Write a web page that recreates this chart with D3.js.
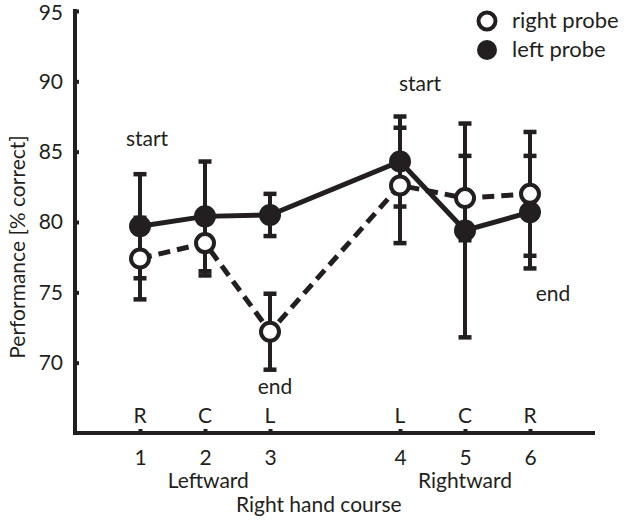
<!DOCTYPE html>
<html>
<head>
<meta charset="utf-8">
<script src="https://cdn.jsdelivr.net/npm/d3@7"></script>
<style>
  body { margin: 0; background: #fff; }
  text { font-family: Lato, "Open Sans", sans-serif; fill: #231f20; }
</style>
</head>
<body>
<svg width="630" height="529"></svg>
<script>
// chart values
let positions = [1, 2, 3, 5, 6, 7]          // plotting slots (gap between 3 and 4)
let courseNums = ["1", "2", "3", "4", "5", "6"]
let sideLabels = ["R", "C", "L", "L", "C", "R"]
let leftMean = [79.7, 80.4, 80.5, 84.3, 79.4, 80.7]
let leftErr = [3.7, 3.9, 1.5, 3.2, 7.6, 4.0]
let rightMean = [77.4, 78.5, 72.2, 82.6, 81.7, 82.0]
let rightErr = [2.9, 2.3, 2.7, 4.1, 3.0, 4.4]
let yTicks = [70, 75, 80, 85, 90, 95]
let notes = [
  {pos: 1, val: 85.4, text: "start"},
  {pos: 3, val: 67.8, text: "end"},
  {pos: 5, val: 89.3, text: "start"},
  {pos: 7, val: 74.4, text: "end"}
]
let noteShift = [7, 5, 20, 23]

let ink = "#231f20"
let svg = d3.select("svg")

let x = d3.scaleLinear().domain([0, 8]).range([75, 595])
let y = d3.scaleLinear().domain([65, 95]).range([433, 11])

// axes
let yAxis = d3.axisLeft(y).tickValues(yTicks).tickSize(-4).tickPadding(12).tickFormat(d3.format("d"))
let gy = svg.append("g").attr("transform", "translate(" + x(0) + ",0)").call(yAxis)
let xAxis = d3.axisBottom(x).tickValues(positions).tickSize(-4).tickPadding(12)
  .tickFormat((d, i) => courseNums[i])
let gx = svg.append("g").attr("transform", "translate(0," + y(65) + ")").call(xAxis)

;[gx, gy].forEach(g => {
  g.select(".domain").remove()
  g.selectAll(".tick line").attr("stroke", ink).attr("stroke-width", 4)
  g.selectAll(".tick text").attr("font-size", 21).attr("font-family", "Lato, sans-serif").attr("fill", ink)
})
gx.selectAll(".tick text").attr("dy", "0.95em")
gy.selectAll(".tick text").filter(d => d == 95).attr("dy", "0.42em")
svg.append("path")
  .attr("d", "M" + x(0) + "," + (y(95) - 2) + "V" + y(65) + "H" + x(8))
  .attr("fill", "none").attr("stroke", ink).attr("stroke-width", 4)

// R / C / L above the axis
svg.selectAll(".side").data(positions).enter().append("text")
  .attr("x", d => x(d)).attr("y", y(65) - 10)
  .attr("text-anchor", "middle").attr("font-size", 21)
  .text((d, i) => sideLabels[i])

svg.append("text").attr("x", x(2.05)).attr("y", 488).attr("text-anchor", "middle")
  .attr("font-size", 21).text("Leftward")
svg.append("text").attr("x", x(6)).attr("y", 488).attr("text-anchor", "middle")
  .attr("font-size", 21).text("Rightward")
svg.append("text").attr("x", x(3.75)).attr("y", 512).attr("text-anchor", "middle")
  .attr("font-size", 21).text("Right hand course")
svg.append("text").attr("transform", "translate(25,247) rotate(-90)")
  .attr("text-anchor", "middle").attr("font-size", 21).text("Performance [% correct]")

// error bars
function errorBars(mean, err) {
  let g = svg.append("g").attr("stroke", ink).attr("fill", "none")
  positions.forEach((p, i) => {
    let lo = y(mean[i] - err[i]), hi = y(mean[i] + err[i])
    g.append("line").attr("x1", x(p)).attr("x2", x(p)).attr("y1", lo).attr("y2", hi).attr("stroke-width", 4)
    ;[lo, hi].forEach(v => {
      g.append("line").attr("x1", x(p) - 6.5).attr("x2", x(p) + 6.5).attr("y1", v).attr("y2", v).attr("stroke-width", 4.5)
    })
  })
}
errorBars(leftMean, leftErr)
errorBars(rightMean, rightErr)

// series lines
let line = d3.line().x(d => x(d[0])).y(d => y(d[1]))
svg.append("path").datum(positions.map((p, i) => [p, rightMean[i]]))
  .attr("d", line).attr("fill", "none").attr("stroke", ink)
  .attr("stroke-width", 5).attr("stroke-dasharray", "12,7")
svg.append("path").datum(positions.map((p, i) => [p, leftMean[i]]))
  .attr("d", line).attr("fill", "none").attr("stroke", ink).attr("stroke-width", 5)

// markers
svg.selectAll(".lp").data(positions).enter().append("circle")
  .attr("cx", d => x(d)).attr("cy", (d, i) => y(leftMean[i])).attr("r", 11).attr("fill", ink)
svg.selectAll(".rp").data(positions).enter().append("circle")
  .attr("cx", d => x(d)).attr("cy", (d, i) => y(rightMean[i])).attr("r", 9)
  .attr("fill", "#fff").attr("stroke", ink).attr("stroke-width", 4)

// start / end notes
svg.selectAll(".note").data(notes).enter().append("text")
  .attr("x", (d, i) => x(d.pos) + noteShift[i]).attr("y", d => y(d.val))
  .attr("text-anchor", "middle").attr("font-size", 21).text(d => d.text)

// legend
let legend = svg.append("g").attr("transform", "translate(487,21)")
legend.append("circle").attr("r", 8.5).attr("fill", "#fff").attr("stroke", ink).attr("stroke-width", 4)
legend.append("circle").attr("cy", 29).attr("r", 10).attr("fill", ink)
legend.append("text").attr("x", 25).attr("y", 7).attr("font-size", 22).text("right probe")
legend.append("text").attr("x", 25).attr("y", 36).attr("font-size", 22).text("left probe")
</script>
</body>
</html>
